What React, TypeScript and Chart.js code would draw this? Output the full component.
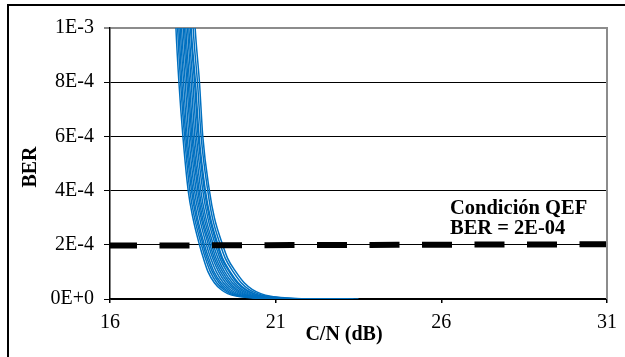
import React, { useEffect, useRef } from 'react';
import { Chart, registerables } from 'chart.js';

Chart.register(...registerables);

// BER levels in units of 1E-4 (shared by all measured curves)
const berLevels = [13, 10, 8, 6, 4, 3, 2, 1.5, 1, 0.6, 0.35, 0.2, 0.1, 0.04, 0.01, 0];

// C/N (dB) at which each measured curve reaches the BER levels above
const curve01 = [17.9, 17.99, 18.08, 18.2, 18.36, 18.5, 18.7, 18.82, 18.96, 19.15, 19.35, 19.55, 19.85, 20.3, 21.0, 22.0];
const curve02 = [17.94, 18.04, 18.13, 18.25, 18.41, 18.55, 18.76, 18.88, 19.03, 19.22, 19.43, 19.63, 19.93, 20.38, 21.08, 22.1];
const curve03 = [17.98, 18.08, 18.17, 18.29, 18.46, 18.6, 18.81, 18.93, 19.09, 19.29, 19.49, 19.7, 20.0, 20.45, 21.15, 22.2];
const curve04 = [18.02, 18.12, 18.22, 18.33, 18.5, 18.64, 18.85, 18.98, 19.14, 19.35, 19.56, 19.77, 20.07, 20.52, 21.22, 22.3];
const curve05 = [18.06, 18.16, 18.27, 18.38, 18.55, 18.7, 18.91, 19.04, 19.21, 19.42, 19.63, 19.85, 20.15, 20.6, 21.3, 22.4];
const curve06 = [18.11, 18.21, 18.32, 18.43, 18.6, 18.75, 18.97, 19.1, 19.28, 19.49, 19.71, 19.93, 20.23, 20.68, 21.38, 22.6];
const curve07 = [18.15, 18.25, 18.36, 18.47, 18.65, 18.79, 19.02, 19.15, 19.34, 19.56, 19.78, 20.0, 20.3, 20.75, 21.45, 22.7];
const curve08 = [18.19, 18.29, 18.4, 18.51, 18.69, 18.84, 19.07, 19.2, 19.4, 19.62, 19.84, 20.07, 20.37, 20.82, 21.52, 22.8];
const curve09 = [18.23, 18.34, 18.45, 18.56, 18.74, 18.89, 19.12, 19.26, 19.46, 19.69, 19.92, 20.15, 20.45, 20.9, 21.6, 22.9];
const curve10 = [18.27, 18.38, 18.5, 18.61, 18.8, 18.95, 19.18, 19.32, 19.53, 19.76, 19.99, 20.23, 20.53, 20.98, 21.68, 23.0];
const curve11 = [18.32, 18.43, 18.55, 18.66, 18.85, 19.0, 19.23, 19.37, 19.6, 19.83, 20.07, 20.31, 20.61, 21.06, 21.76, 23.1];
const curve12 = [18.34, 18.45, 18.58, 18.69, 18.88, 19.03, 19.26, 19.4, 19.63, 19.87, 20.11, 20.35, 20.65, 21.1, 21.8, 23.2];
const curve13 = [18.4, 18.51, 18.64, 18.75, 18.95, 19.09, 19.33, 19.48, 19.72, 19.96, 20.2, 20.45, 20.75, 21.2, 21.9, 23.35];
const curve14 = [18.45, 18.57, 18.7, 18.8, 19.0, 19.15, 19.4, 19.55, 19.8, 20.05, 20.3, 20.55, 20.85, 21.3, 22.0, 23.5];

const curves = [curve01, curve02, curve03, curve04, curve05, curve06, curve07, curve08, curve09, curve10, curve11, curve12, curve13, curve14];

// QEF threshold line (BER in units of 1E-4)
const qefCN = [16, 31];
const qefBER = [1.97, 2.02];

const yTickLabels = ['0E+0', '2E-4', '4E-4', '6E-4', '8E-4', '1E-3'];
const xTickLabels = ['16', '21', '26', '31'];

const xTitle = 'C/N (dB)';
const yTitle = 'BER';
const noteLine1 = 'Condición QEF';
const noteLine2 = 'BER = 2E-04';

const SERIF = '"Liberation Serif", "Times New Roman", serif';
const BLUE = '#0070C0';

const decorPlugin = {
  id: 'decor',
  afterDraw(chart: any) {
    const ctx = chart.ctx as CanvasRenderingContext2D;
    const area = chart.chartArea;
    ctx.save();
    // outer frame (extends beyond the picture at right and bottom)
    ctx.fillStyle = '#000';
    ctx.fillRect(7, 4, 640, 2);
    ctx.fillRect(7, 4, 2, 380);
    // right plot border (gray)
    ctx.strokeStyle = '#8c8c8c';
    ctx.lineWidth = 2;
    ctx.beginPath();
    ctx.moveTo(area.right, area.top - 1);
    ctx.lineTo(area.right, area.bottom);
    ctx.stroke();

    ctx.fillStyle = '#000';
    ctx.font = `bold 20px ${SERIF}`;
    // y title
    ctx.save();
    ctx.translate(31, 167);
    ctx.rotate(-Math.PI / 2);
    ctx.textAlign = 'center';
    ctx.textBaseline = 'middle';
    ctx.fillText(yTitle, 0, 0);
    ctx.restore();
    // x title
    ctx.textAlign = 'center';
    ctx.textBaseline = 'alphabetic';
    ctx.fillText(xTitle, 344, 340);
    // annotation
    ctx.font = `bold 20.5px ${SERIF}`;
    ctx.textAlign = 'left';
    ctx.fillText(noteLine1, 450, 214);
    ctx.fillText(noteLine2, 450, 234);
    ctx.restore();
  },
};

export default function App() {
  const canvasRef = useRef<HTMLCanvasElement | null>(null);

  useEffect(() => {
    const canvas = canvasRef.current;
    if (!canvas) return;

    const curveSets = curves.map((cn, i) => ({
      label: `Curva ${i + 1}`,
      data: cn.map((x, j) => ({ x, y: berLevels[j] })),
      borderColor: BLUE,
      backgroundColor: BLUE,
      borderWidth: 1.5,
      pointRadius: 0,
      cubicInterpolationMode: 'monotone' as const,
      fill: false,
      order: 1,
    }));

    const qefSet = {
      label: 'QEF',
      data: qefCN.map((x, j) => ({ x, y: qefBER[j] })),
      borderColor: '#000',
      backgroundColor: '#000',
      borderWidth: 6,
      borderDash: [24, 28.5],
      borderCapStyle: 'square' as const,
      pointRadius: 0,
      fill: false,
      order: 0,
    };

    const chart = new Chart(canvas, {
      type: 'line',
      data: { datasets: [qefSet, ...curveSets] as any },
      plugins: [decorPlugin],
      options: {
        animation: false,
        responsive: false,
        devicePixelRatio: 1,
        layout: { padding: { top: 28, right: 16, left: 0, bottom: 0 } },
        plugins: { legend: { display: false }, tooltip: { enabled: false } },
        scales: {
          x: {
            type: 'linear',
            min: 16,
            max: 31,
            afterFit: (s: any) => { s.height = 58; },
            ticks: {
              stepSize: 5,
              padding: 8,
              color: '#000',
              font: { family: SERIF, size: 20 },
              callback: (_v: any, i: number) => xTickLabels[i],
            },
            grid: { drawOnChartArea: false, drawTicks: true, tickLength: 4, color: '#000', lineWidth: 1.5 },
            border: { color: '#000', width: 1.5 },
          },
          y: {
            type: 'linear',
            min: 0,
            max: 10,
            afterFit: (s: any) => { s.width = 110; },
            ticks: {
              stepSize: 2,
              padding: 10,
              color: '#000',
              font: { family: SERIF, size: 20 },
              callback: (_v: any, i: number) => yTickLabels[i],
            },
            grid: {
              drawTicks: true,
              tickLength: 6,
              color: (c: any) => (c.tick && c.tick.value === 10 ? '#8c8c8c' : '#000'),
              lineWidth: (c: any) => (c.tick && c.tick.value === 10 ? 2 : 1),
            },
            border: { color: '#000', width: 1.5 },
          },
        },
      },
    });

    return () => chart.destroy();
  }, []);

  return (
    <div style={{ position: 'absolute', left: 0, top: 0, width: 625, height: 357, background: '#fff' }}>
      <canvas ref={canvasRef} width={625} height={357} style={{ display: 'block' }} />
    </div>
  );
}
